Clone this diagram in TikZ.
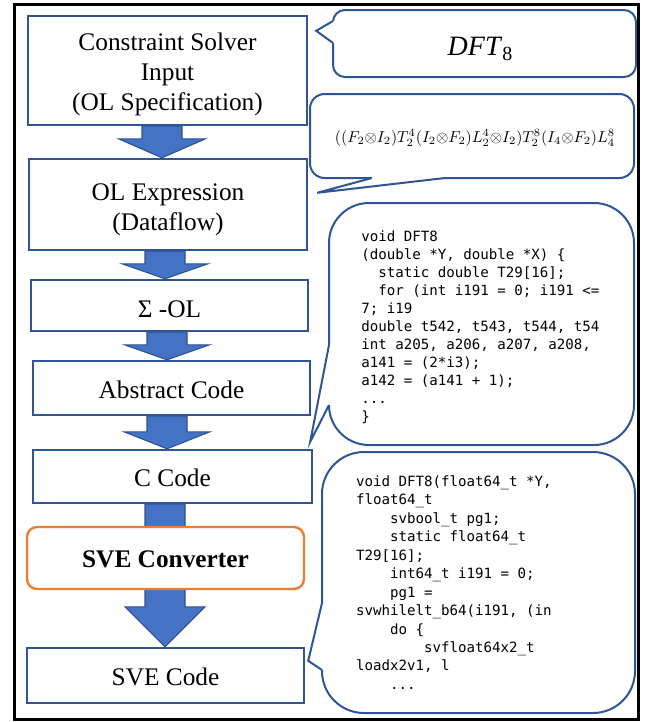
\documentclass[tikz,border=0pt]{standalone}
\usepackage{fontspec}
\setmainfont{Liberation Serif}
\newfontfamily\codefont{DejaVu Sans Mono}
\usepackage{graphicx}
\usetikzlibrary{calc,backgrounds}
\definecolor{boxblue}{HTML}{2F5597}
\definecolor{arrowfill}{HTML}{4472C4}
\definecolor{arrowline}{HTML}{2F528F}
\definecolor{convorange}{HTML}{ED7D31}
\definecolor{calloutblue}{HTML}{2F5597}
\newcommand\blockarr[6]{%
  \draw[blockarrow] let \p1=(#1.south), \p2=(#2.north) in
   ({(#3-#5)*0.75pt},\y1) -- ({(#3-#5)*0.75pt},{\y2+#4*0.75pt})
   -- ({(#3-#6)*0.75pt},{\y2+#4*0.75pt}) -- ({#3*0.75pt},\y2)
   -- ({(#3+#6)*0.75pt},{\y2+#4*0.75pt}) -- ({(#3+#5)*0.75pt},{\y2+#4*0.75pt})
   -- ({(#3+#5)*0.75pt},\y1) -- cycle;}
\newcommand\calloutptr[4]{% base a, tip, base b, inward shift
  \fill[white] ($(#1)+#4$) -- (#1) -- (#2) -- (#3) -- ($(#3)+#4$) -- cycle;
  \draw[pointerline] (#1) -- (#2) -- (#3);}
\newcommand\codesize[1]{\codefont\fontsize{10.6}{#1}\selectfont}
\newcommand\ssp{\hspace*{6.3817pt}}
\begin{document}
\begin{tikzpicture}[x=0.75pt,y=-0.75pt,
  flowbox/.style={draw=boxblue, line width=1.8pt, fill=white, align=center,
    inner sep=0pt, font=\fontsize{19}{22.5}\selectfont},
  convbox/.style={flowbox, draw=convorange, rounded corners=7.5pt,
    font=\fontsize{19}{22.5}\selectfont\bfseries},
  textdown/.style={execute at begin node={\rule{0pt}{#1}}},
  callout/.style={draw=calloutblue, line width=1.5pt, fill=white, outer sep=0pt, inner sep=0pt},
  pointerline/.style={draw=calloutblue, line width=1.5pt, line join=miter},
  blockarrow/.style={fill=arrowfill, draw=arrowline, line width=0.8pt, line join=miter},
  codeonetext/.style={align=left, font=\codesize{13.5}, inner sep=0pt, text width=185pt},
  codetwo/.style={callout, align=left, font=\codesize{13.84},
    inner xsep=25.5pt, text width=183.75pt, minimum height=195.75pt}
]
\useasboundingbox (0,0) rectangle (656,722);

% flow boxes
\node[flowbox, minimum width=209.25pt, minimum height=81.75pt] (b1) at (167.5,70.5)
  {\rule{0pt}{19pt}Constraint Solver\\Input\\(OL Specification)};
\node[flowbox, minimum width=208.5pt, minimum height=68.25pt] (b2) at (168,204.5)
  {\rule{0pt}{19.8pt}OL Expression\\(Dataflow)};
\node[flowbox, textdown=18.6pt, minimum width=207.75pt, minimum height=38.25pt] (b3) at (169.5,305.5)
  {Σ -OL};
\node[flowbox, textdown=15.2pt, minimum width=207.75pt, minimum height=40.5pt] (b4) at (171.5,388)
  {Abstract Code};
\node[flowbox, textdown=15.2pt, minimum width=209.25pt, minimum height=39.75pt] (b5) at (172.5,476.5)
  {C Code};
\node[convbox, textdown=15.2pt, minimum width=207.75pt, minimum height=46.5pt] (b6) at (165.5,558)
  {SVE Converter};
\node[flowbox, textdown=15.2pt, minimum width=207.75pt, minimum height=41.25pt] (b7) at (165.5,675.5)
  {SVE Code};

% block arrows
\begin{scope}[on background layer]
\blockarr{b1}{b2}{162}{19}{20}{43.5}
\blockarr{b2}{b3}{165}{15}{20}{43}
\blockarr{b3}{b4}{167}{15}{20}{42.5}
\blockarr{b4}{b5}{167}{17}{20}{43}
\blockarr{b5}{b7}{165}{40}{20}{40}
\end{scope}

% callouts
\node[callout, rounded corners=9pt, minimum width=227.25pt, minimum height=50.25pt] (c1) at (484.5,43.5) {};
\node (dft) at (480,49) {\fontsize{21}{24}\selectfont\textit{DFT}\raisebox{-4pt}{\fontsize{15}{16}\selectfont 8}};
\coordinate (c1a) at ($(c1.north west)+(0,11)$);
\coordinate (c1b) at ($(c1.north west)+(0,33)$);
\coordinate (c1t) at ($(b1.north east)+(8,16)$);
\calloutptr{c1a}{c1t}{c1b}{(3,0)}

\node[callout, rounded corners=11pt, minimum width=243pt, minimum height=63pt] (c2) at (472,136) {};
\node (formula) at (475,138) {\resizebox{210pt}{!}{$(({F_2}{\otimes}{I_2})T_2^4({I_2}{\otimes}{F_2})L_2^4{\otimes}{I_2})T_2^8({I_4}{\otimes}{F_2})L_4^8$}};
\coordinate (c2a) at ($(c2.south west)+(62,0)$);
\coordinate (c2b) at ($(c2.south west)+(135,0)$);
\coordinate (c2t) at ($(b2.north east)+(9,35)$);
\calloutptr{c2a}{c2t}{c2b}{(0,-3)}

\node[callout, rounded corners=30pt, minimum width=228.75pt, minimum height=181.5pt] (c3) at (481.5,324) {};
\node[codeonetext, anchor=north west] (code1) at (361,230.5) {%
void\ssp DFT8\\
(double\ssp *Y,\ssp double\ssp *X)\ssp \{\\
\ssp\ssp static\ssp double\ssp T29[16];\\
\ssp\ssp for\ssp (int\ssp i191\ssp =\ssp 0;\ssp i191\ssp <=\\
7;\ssp i19\\
double\ssp t542,\ssp t543,\ssp t544,\ssp t54\\
int\ssp a205,\ssp a206,\ssp a207,\ssp a208,\\
a141\ssp =\ssp (2*i3);\\
a142\ssp =\ssp (a141\ssp +\ssp 1);\\
...\\
\}};
\coordinate (c3a) at ($(c3.north west)+(0,142)$);
\coordinate (c3b) at ($(c3.north west)+(0,202)$);
\coordinate (c3t) at ($(b5.north east)+(-3,-7)$);
\calloutptr{c3a}{c3t}{c3b}{(3,0)}

\node[codetwo, rounded corners=31.5pt] (c4) at (478.5,582.5) {%
void\ssp DFT8(float64\_t\ssp *Y,\\
float64\_t\\
\ssp\ssp\ssp\ssp svbool\_t\ssp pg1;\\
\ssp\ssp\ssp\ssp static\ssp float64\_t\\
T29[16];\\
\ssp\ssp\ssp\ssp int64\_t\ssp i191\ssp =\ssp 0;\\
\ssp\ssp\ssp\ssp pg1\ssp =\\
svwhilelt\_b64(i191,\ssp (in\\
\ssp\ssp\ssp\ssp do\ssp \{\\
\ssp\ssp\ssp\ssp\ssp\ssp\ssp\ssp svfloat64x2\_t\\
loadx2v1,\ssp l\\
\ssp\ssp\ssp\ssp ...};
\coordinate (c4a) at ($(c4.north west)+(0,151)$);
\coordinate (c4b) at ($(c4.north west)+(0,218)$);
\coordinate (c4t) at ($(b7.north east)+(3,14)$);
\calloutptr{c4a}{c4t}{c4b}{(3,0)}

% outer frame
\draw[line width=2.25pt] (14,4) rectangle (638,719);
\end{tikzpicture}
\end{document}
